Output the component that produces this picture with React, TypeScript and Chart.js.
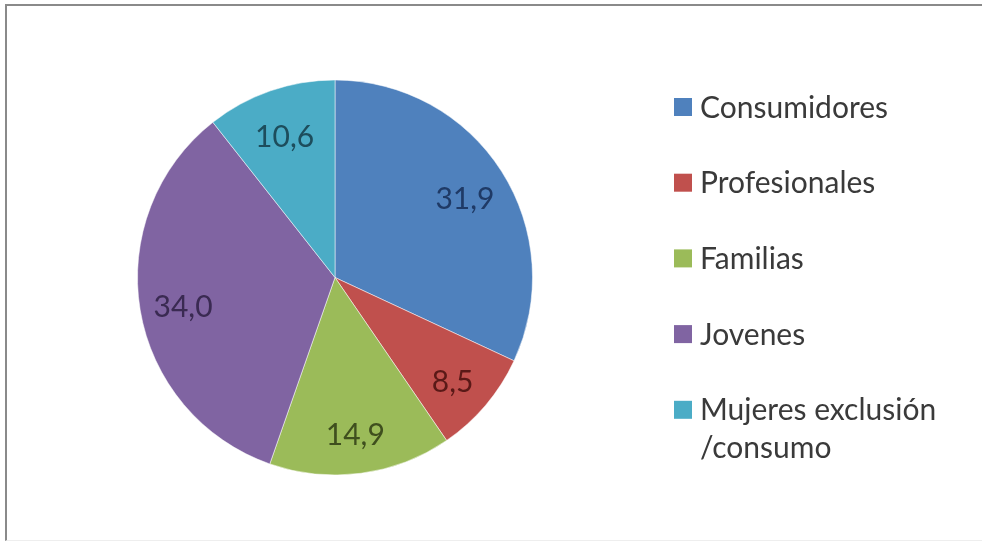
import React, { useEffect, useRef } from "react";
import { Chart, registerables } from "chart.js";

Chart.register(...registerables);

const categories: (string | string[])[] = [
  "Consumidores",
  "Profesionales",
  "Familias",
  "Jovenes",
  ["Mujeres exclusión", "/consumo"],
];
const values = [31.9, 8.5, 14.9, 34.0, 10.6];
const valueLabels = ["31,9", "8,5", "14,9", "34,0", "10,6"];
const sliceColors = ["#4F81BD", "#C0504D", "#9BBB59", "#8064A2", "#4BACC6"];
const labelColors = ["#1F3A66", "#5A1917", "#3F4F1E", "#3A2A52", "#1D4D5C"];

const FONT = "Lato, 'Open Sans', sans-serif";

const valueLabelPlugin = {
  id: "valueLabels",
  afterDatasetsDraw(chart: any) {
    const ctx = chart.ctx;
    const meta = chart.getDatasetMeta(0);
    ctx.save();
    ctx.font = `30px ${FONT}`;
    ctx.textAlign = "center";
    ctx.textBaseline = "middle";
    meta.data.forEach((arc: any, i: number) => {
      const p = arc.getProps(["x", "y", "startAngle", "endAngle", "outerRadius"], true);
      const mid = (p.startAngle + p.endAngle) / 2;
      const r = p.outerRadius * 0.78;
      ctx.fillStyle = labelColors[i];
      ctx.fillText(valueLabels[i], p.x + Math.cos(mid) * r, p.y + Math.sin(mid) * r + 5);
    });
    ctx.restore();
  },
};

const legendPlugin = {
  id: "customLegend",
  afterDraw(chart: any) {
    const ctx = chart.ctx;
    const labels = chart.data.labels as (string | string[])[];
    const colors = chart.data.datasets[0].backgroundColor as string[];
    ctx.save();
    ctx.font = `30px ${FONT}`;
    ctx.textBaseline = "middle";
    ctx.textAlign = "left";
    const x0 = 674;
    const startY = 107;
    const step = 75.7;
    const lineH = 38;
    labels.forEach((lab, i) => {
      const cy = startY + i * step;
      ctx.fillStyle = colors[i];
      ctx.fillRect(x0, cy - 9, 18, 18);
      ctx.fillStyle = "#3a3a3a";
      const lines = Array.isArray(lab) ? lab : [lab];
      lines.forEach((ln, j) => {
        ctx.fillText(ln, x0 + 26, cy + j * lineH + 1);
      });
    });
    ctx.restore();
  },
};

export default function App() {
  const ref = useRef<HTMLCanvasElement>(null);
  useEffect(() => {
    if (!ref.current) return;
    const chart = new Chart(ref.current, {
      type: "pie",
      data: {
        labels: categories as any,
        datasets: [
          {
            data: values,
            backgroundColor: sliceColors,
            borderColor: "rgba(255,255,255,0.5)",
            borderWidth: 1,
          },
        ],
      },
      options: {
        animation: false,
        responsive: false,
        maintainAspectRatio: false,
        layout: { padding: { left: 137, right: 449, top: 79, bottom: 67 } },
        plugins: {
          legend: { display: false },
          tooltip: { enabled: false },
        },
      },
      plugins: [valueLabelPlugin, legendPlugin],
    });
    return () => chart.destroy();
  }, []);

  return (
    <div
      style={{
        position: "absolute",
        left: 0,
        top: 0,
        width: 982,
        height: 543,
        background: "#fff",
        overflow: "hidden",
      }}
    >
      <div
        style={{
          position: "absolute",
          left: 5,
          top: 4,
          width: 1000,
          height: 534,
          borderTop: "2px solid #8a8a8a",
          borderLeft: "2px solid #8a8a8a",
          borderBottom: "1px solid #eeeeee",
        }}
      />
      <canvas
        ref={ref}
        width={982}
        height={543}
        style={{ position: "absolute", left: 0, top: 0, width: 982, height: 543 }}
      />
    </div>
  );
}
